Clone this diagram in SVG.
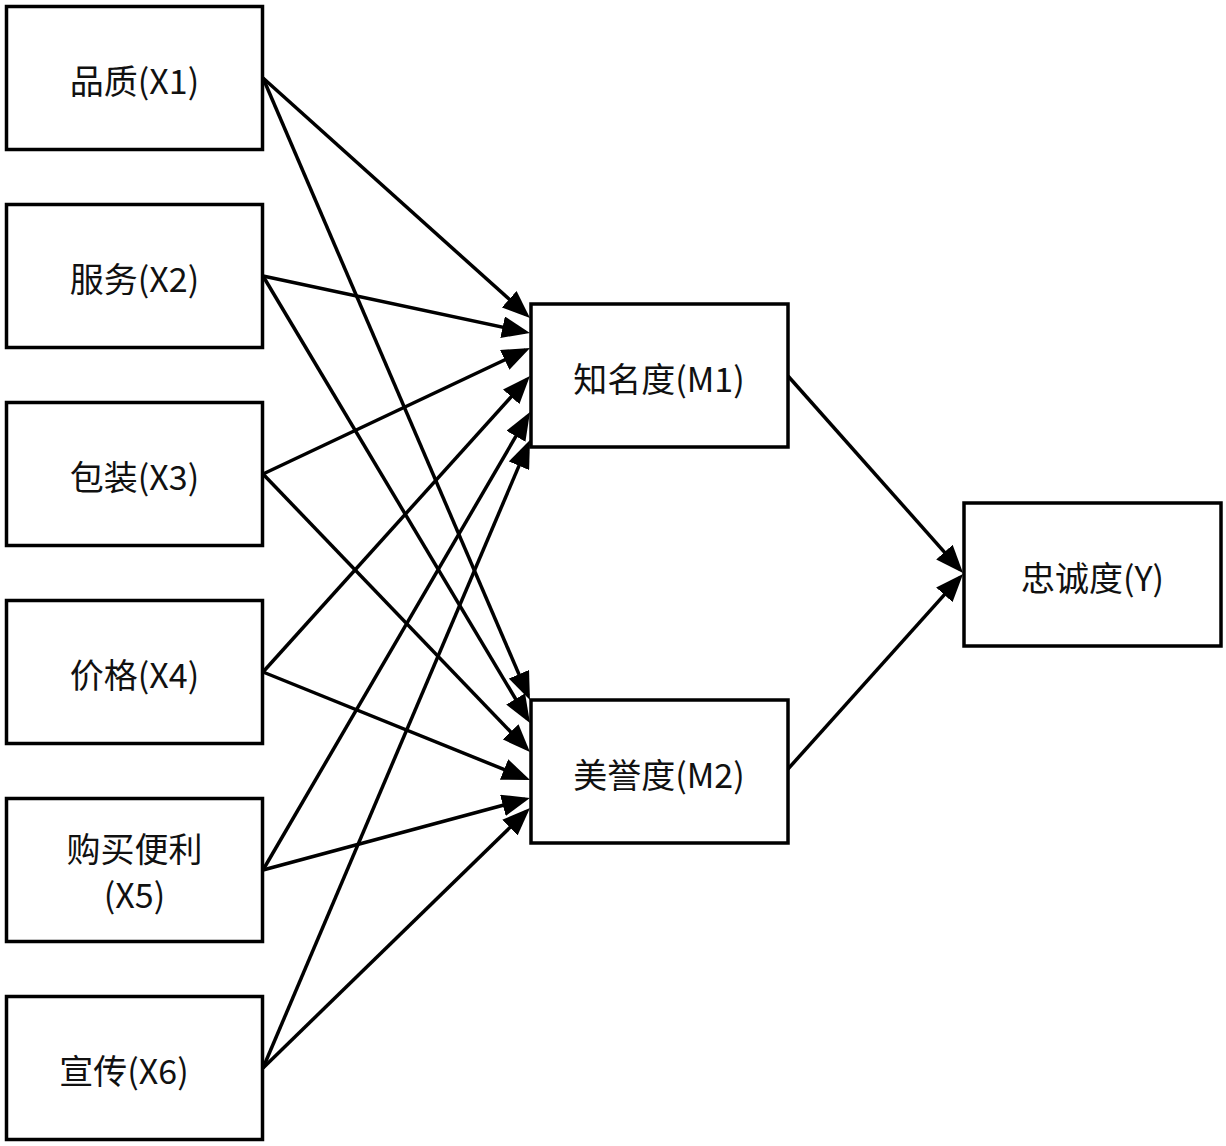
<svg xmlns="http://www.w3.org/2000/svg" width="1226" height="1146" viewBox="0 0 1226 1146">
<style>
.box{fill:#fff;stroke:#000;stroke-width:3.5}
.lbl{font-family:"Noto Sans CJK SC","Noto Sans",sans-serif;font-size:34px;fill:#111;text-anchor:middle}
.edge{stroke:#000;stroke-width:3.5;fill:none;marker-end:url(#arr)}
</style>
<defs>
<marker id="arr" viewBox="0 0 28 22" refX="23" refY="11" markerWidth="28" markerHeight="22" markerUnits="userSpaceOnUse" orient="auto">
<path d="M0,0 L28,11 L0,22 z" fill="#000"/>
</marker>
</defs>
<rect width="1226" height="1146" fill="#fff"/>
<g id="connectors">
<line class="edge" x1="263" y1="78" x2="526.3" y2="314.6"/>
<line class="edge" x1="263" y1="276" x2="525.1" y2="332.0"/>
<line class="edge" x1="263" y1="474" x2="525.5" y2="350.1"/>
<line class="edge" x1="263" y1="672" x2="526.6" y2="379.7"/>
<line class="edge" x1="263" y1="870" x2="527.5" y2="416.4"/>
<line class="edge" x1="263" y1="1068" x2="528.0" y2="444.6"/>
<line class="edge" x1="263" y1="78" x2="528.0" y2="695.4"/>
<line class="edge" x1="263" y1="276" x2="527.4" y2="718.7"/>
<line class="edge" x1="263" y1="474" x2="526.5" y2="748.4"/>
<line class="edge" x1="263" y1="672" x2="525.4" y2="778.1"/>
<line class="edge" x1="263" y1="870" x2="525.1" y2="799.3"/>
<line class="edge" x1="263" y1="1068" x2="526.4" y2="811.5"/>
<line class="edge" x1="788" y1="376" x2="959.7" y2="569.3"/>
<line class="edge" x1="788" y1="769" x2="959.7" y2="577.7"/>
</g>
<g id="X1"><rect class="box" x="6.5" y="6.5" width="256" height="143"/><text class="lbl" x="134.5" y="94">品质(X1)</text></g>
<g id="X2"><rect class="box" x="6.5" y="204.5" width="256" height="143"/><text class="lbl" x="134.5" y="292">服务(X2)</text></g>
<g id="X3"><rect class="box" x="6.5" y="402.5" width="256" height="143"/><text class="lbl" x="134.5" y="490">包装(X3)</text></g>
<g id="X4"><rect class="box" x="6.5" y="600.5" width="256" height="143"/><text class="lbl" x="134.5" y="688">价格(X4)</text></g>
<g id="X5"><rect class="box" x="6.5" y="798.5" width="256" height="143"/><text class="lbl" x="134.5" y="862">购买便利</text><text class="lbl" x="134.5" y="908">(X5)</text></g>
<g id="X6"><rect class="box" x="6.5" y="996.5" width="256" height="143"/><text class="lbl" x="124" y="1084">宣传(X6)</text></g>
<g id="M1"><rect class="box" x="531" y="304" width="257" height="143"/><text class="lbl" x="659" y="391.5">知名度(M1)</text></g>
<g id="M2"><rect class="box" x="531" y="700" width="257" height="143"/><text class="lbl" x="659" y="787.5">美誉度(M2)</text></g>
<g id="Y"><rect class="box" x="964" y="503" width="257" height="143"/><text class="lbl" x="1092.5" y="590.5">忠诚度(Y)</text></g>
</svg>
